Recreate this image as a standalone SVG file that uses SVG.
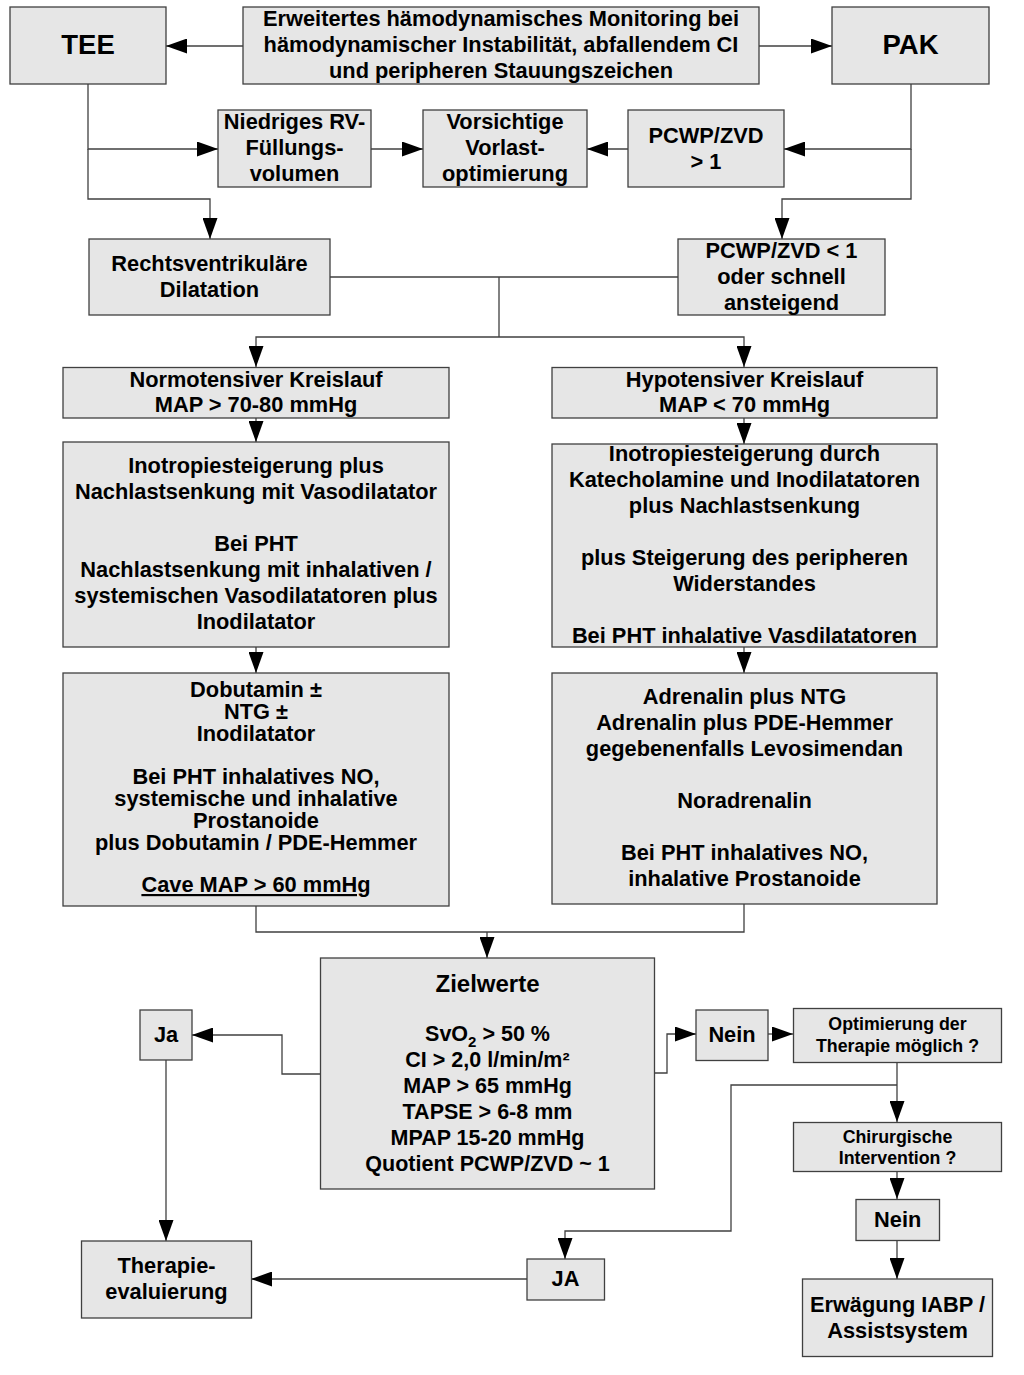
<svg xmlns="http://www.w3.org/2000/svg" width="1024" height="1375" viewBox="0 0 1024 1375">
<style>
.b{fill:#e6e6e6;stroke:#404040;stroke-width:1.3}
text{font-family:"Liberation Sans",Arial,sans-serif;font-weight:bold;font-size:21.8px;fill:#000;text-anchor:middle}
.big{font-size:27.5px}
.sm{font-size:17.8px}
.z{font-size:21.5px}
.c{fill:none;stroke:#404040;stroke-width:1.3}
.a{marker-end:url(#ah)}
</style>
<defs>
<marker id="ah" markerUnits="userSpaceOnUse" markerWidth="21" markerHeight="15" refX="21" refY="7.5" orient="auto">
<path d="M0,0 L21,7.5 L0,15 z" fill="#000"/>
</marker>
</defs>
<rect width="1024" height="1375" fill="#fff"/>
<g id="connectors">
<path class="c a" d="M243,46 H166"/>
<path class="c a" d="M759,46 H832"/>
<path class="c a" d="M88,84 V149 H218"/>
<path class="c a" d="M88,149 V199 H210 V239"/>
<path class="c a" d="M371,149 H423"/>
<path class="c a" d="M628,149 H587"/>
<path class="c a" d="M911,84 V149 H784"/>
<path class="c a" d="M911,149 V199 H782 V239"/>
<path class="c" d="M330,277 H678 M499,277 V337"/>
<path class="c a" d="M499,337 H256 V367"/>
<path class="c a" d="M499,337 H744 V367"/>
<path class="c a" d="M256,418 V442"/>
<path class="c a" d="M744,418 V444"/>
<path class="c a" d="M256,647 V673"/>
<path class="c a" d="M744,647 V673"/>
<path class="c" d="M256,906 V932 H744 V904"/>
<path class="c a" d="M487,932 V958"/>
<path class="c a" d="M320,1074 H282 V1035 H192"/>
<path class="c a" d="M166,1060 V1241"/>
<path class="c a" d="M654,1073 H667 V1034 H696"/>
<path class="c a" d="M768,1034 H793"/>
<path class="c a" d="M897,1062 V1122"/>
<path class="c a" d="M897,1085 H731 V1231 H565 V1259"/>
<path class="c a" d="M527,1279 H251"/>
<path class="c a" d="M897,1172 V1199"/>
<path class="c a" d="M897,1241 V1279"/>
</g>
<g id="tee"><rect class="b" x="10" y="7" width="156" height="77"/><text class="big" x="88" y="54">TEE</text></g>
<g id="header"><rect class="b" x="243" y="7" width="516" height="77"/>
<text x="501" y="26">Erweitertes hämodynamisches Monitoring bei</text>
<text x="501" y="52">hämodynamischer Instabilität, abfallendem CI</text>
<text x="501" y="78">und peripheren Stauungszeichen</text></g>
<g id="pak"><rect class="b" x="832" y="7" width="157" height="77"/><text class="big" x="910.5" y="54">PAK</text></g>
<g id="niedriges"><rect class="b" x="218" y="110" width="153" height="77"/>
<text x="294.5" y="129">Niedriges RV-</text><text x="294.5" y="155">Füllungs-</text><text x="294.5" y="181">volumen</text></g>
<g id="vorsichtige"><rect class="b" x="423" y="110" width="164" height="77"/>
<text x="505" y="129">Vorsichtige</text><text x="505" y="155">Vorlast-</text><text x="505" y="181">optimierung</text></g>
<g id="pcwp-gt1"><rect class="b" x="628" y="110" width="156" height="77"/>
<text x="706" y="143">PCWP/ZVD</text><text x="706" y="169">&gt; 1</text></g>
<g id="rv-dilatation"><rect class="b" x="89" y="239" width="241" height="76"/>
<text x="209.5" y="271">Rechtsventrikuläre</text><text x="209.5" y="297">Dilatation</text></g>
<g id="pcwp-lt1"><rect class="b" x="678" y="239" width="207" height="76"/>
<text x="781.5" y="258">PCWP/ZVD &lt; 1</text><text x="781.5" y="284">oder schnell</text><text x="781.5" y="310">ansteigend</text></g>
<g id="normotensiv"><rect class="b" x="63" y="367.5" width="386" height="50.5"/>
<text x="256" y="387">Normotensiver Kreislauf</text><text x="256" y="412">MAP &gt; 70-80 mmHg</text></g>
<g id="hypotensiv"><rect class="b" x="552" y="367.5" width="385" height="50.5"/>
<text x="744.5" y="387">Hypotensiver Kreislauf</text><text x="744.5" y="412">MAP &lt; 70 mmHg</text></g>
<g id="therapie-normo"><rect class="b" x="63" y="442" width="386" height="205"/>
<text x="256" y="473">Inotropiesteigerung plus</text>
<text x="256" y="499">Nachlastsenkung mit Vasodilatator</text>
<text x="256" y="551">Bei PHT</text>
<text x="256" y="577">Nachlastsenkung mit inhalativen /</text>
<text x="256" y="603">systemischen Vasodilatatoren plus</text>
<text x="256" y="629">Inodilatator</text></g>
<g id="therapie-hypo"><rect class="b" x="552" y="444" width="385" height="203"/>
<text x="744.5" y="461">Inotropiesteigerung durch</text>
<text x="744.5" y="487">Katecholamine und Inodilatatoren</text>
<text x="744.5" y="513">plus Nachlastsenkung</text>
<text x="744.5" y="565">plus Steigerung des peripheren</text>
<text x="744.5" y="591">Widerstandes</text>
<text x="744.5" y="643">Bei PHT inhalative Vasdilatatoren</text></g>
<g id="dobutamin"><rect class="b" x="63" y="673" width="386" height="233"/>
<text x="256" y="697">Dobutamin ±</text>
<text x="256" y="719">NTG ±</text>
<text x="256" y="741">Inodilatator</text>
<text x="256" y="784">Bei PHT inhalatives NO,</text>
<text x="256" y="806">systemische und inhalative</text>
<text x="256" y="828">Prostanoide</text>
<text x="256" y="850">plus Dobutamin / PDE-Hemmer</text>
<text x="256" y="892" text-decoration="underline">Cave MAP &gt; 60 mmHg</text></g>
<g id="adrenalin"><rect class="b" x="552" y="673" width="385" height="231"/>
<text x="744.5" y="704">Adrenalin plus NTG</text>
<text x="744.5" y="730">Adrenalin plus PDE-Hemmer</text>
<text x="744.5" y="756">gegebenenfalls Levosimendan</text>
<text x="744.5" y="808">Noradrenalin</text>
<text x="744.5" y="860">Bei PHT inhalatives NO,</text>
<text x="744.5" y="886">inhalative Prostanoide</text></g>
<g id="zielwerte"><rect class="b" x="320.5" y="958" width="334" height="231"/>
<text x="487.5" y="992" style="font-size:24px">Zielwerte</text>
<text class="z" x="487.5" y="1041">SvO<tspan font-size="15px" dy="6">2</tspan><tspan dy="-6"> &gt; 50 %</tspan></text>
<text class="z" x="487.5" y="1067">CI &gt; 2,0 l/min/m²</text>
<text class="z" x="487.5" y="1093">MAP &gt; 65 mmHg</text>
<text class="z" x="487.5" y="1119">TAPSE &gt; 6-8 mm</text>
<text class="z" x="487.5" y="1145">MPAP 15-20 mmHg</text>
<text class="z" x="487.5" y="1171">Quotient PCWP/ZVD ~ 1</text></g>
<g id="ja"><rect class="b" x="140" y="1010" width="52" height="50"/><text x="166" y="1042">Ja</text></g>
<g id="therapie-evaluierung"><rect class="b" x="81.5" y="1241" width="170" height="77"/>
<text x="166.5" y="1273">Therapie-</text><text x="166.5" y="1299">evaluierung</text></g>
<g id="ja2"><rect class="b" x="527" y="1259" width="77.5" height="41"/><text x="565.5" y="1286">JA</text></g>
<g id="nein"><rect class="b" x="696" y="1010" width="72" height="50.5"/><text x="732" y="1042">Nein</text></g>
<g id="optimierung"><rect class="b" x="793.5" y="1008.5" width="208" height="54"/>
<text class="sm" x="897.5" y="1030">Optimierung der</text><text class="sm" x="897.5" y="1052">Therapie möglich ?</text></g>
<g id="chirurgische"><rect class="b" x="793.5" y="1122.5" width="208" height="49"/>
<text class="sm" x="897.5" y="1143">Chirurgische</text><text class="sm" x="897.5" y="1164">Intervention ?</text></g>
<g id="nein2"><rect class="b" x="856" y="1199.5" width="83.5" height="41"/><text x="897.7" y="1227">Nein</text></g>
<g id="erwaegung"><rect class="b" x="802.5" y="1279" width="190" height="77.5"/>
<text x="897.5" y="1312">Erwägung IABP /</text><text x="897.5" y="1338">Assistsystem</text></g>
</svg>
